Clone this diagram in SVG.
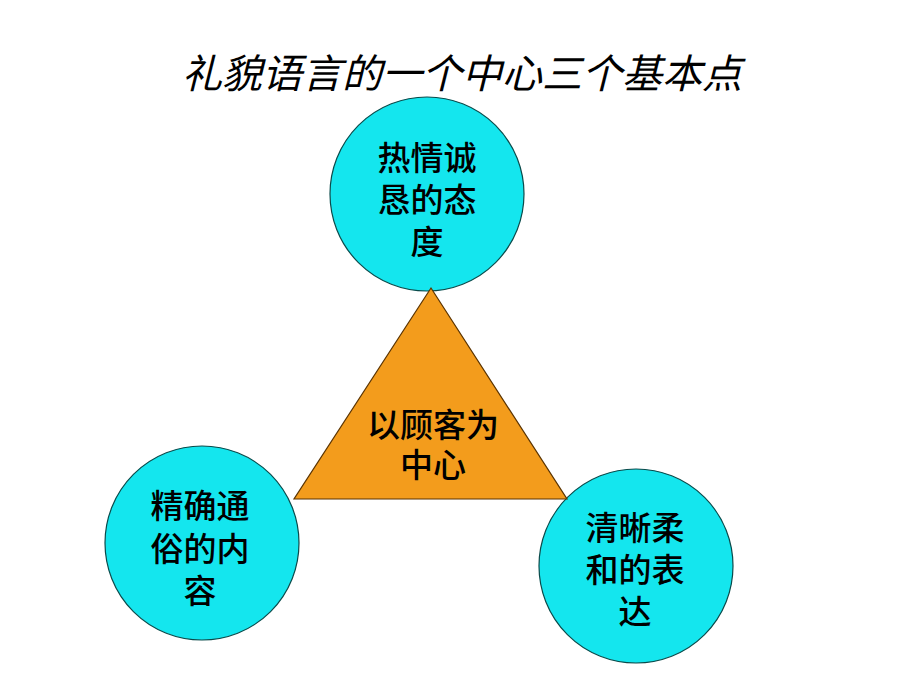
<svg xmlns="http://www.w3.org/2000/svg" width="920" height="690" viewBox="0 0 920 690">
<style>
.c{fill:#14E6EE;stroke:#0A4A4A;stroke-width:1.2}
.t{font-family:"Liberation Sans","Noto Sans CJK SC",sans-serif;font-size:33px;fill:#000;text-anchor:middle;font-weight:500}
.title{font-family:"Liberation Sans","Noto Sans CJK SC",sans-serif;font-size:40px;font-style:italic;fill:#000;text-anchor:middle}
</style>
<rect width="920" height="690" fill="#fff"/>
<text class="title" x="462" y="88">礼貌语言的一个中心三个基本点</text>
<g id="top">
<circle class="c" cx="427" cy="194" r="97"/>
<text class="t" x="427" y="170">热情诚</text>
<text class="t" x="427" y="212">恳的态</text>
<text class="t" x="427" y="254">度</text>
</g>
<g id="left">
<circle class="c" cx="202" cy="543" r="97"/>
<text class="t" x="200" y="518">精确通</text>
<text class="t" x="200" y="561">俗的内</text>
<text class="t" x="200" y="603">容</text>
</g>
<g id="right">
<circle class="c" cx="636" cy="566" r="97"/>
<text class="t" x="635" y="540">清晰柔</text>
<text class="t" x="635" y="582">和的表</text>
<text class="t" x="635" y="624">达</text>
</g>
<g id="center">
<polygon points="431,288 294,499 567,499" fill="#F39C1C" stroke="#5A3300" stroke-width="1.2"/>
<text class="t" x="433" y="437">以顾客为</text>
<text class="t" x="433" y="477">中心</text>
</g>
<g id="connectors"></g>
</svg>
